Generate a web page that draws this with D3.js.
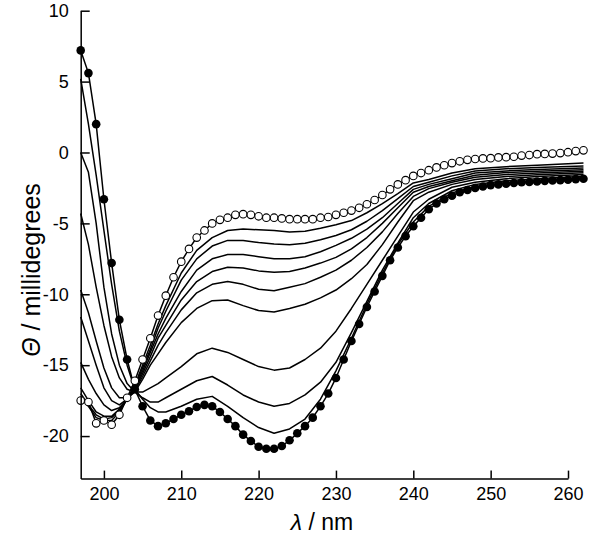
<!DOCTYPE html>
<html>
<head>
<meta charset="utf-8">
<script src="https://cdn.jsdelivr.net/npm/d3@7"></script>
<style>
  body { margin: 0; background: #fff; }
  svg { display: block; font-family: "Liberation Sans", Arial, Helvetica, sans-serif; }
</style>
</head>
<body>
<svg id="chart" width="600" height="536"></svg>
<script>
// wavelengths of the two marked spectra (1 nm steps)
var markWl = d3.range(197, 263);

// open circles: start of titration
var openVals = [-17.5, -17.6, -19.1, -18.9, -19.2, -18.5, -17.3, -16.1, -14.6, -13.1,
  -11.5, -10.1, -8.8, -7.7, -6.8, -6.0, -5.5, -5.0, -4.75, -4.6,
  -4.4, -4.35, -4.4, -4.5, -4.6, -4.6, -4.65, -4.7, -4.7, -4.7,
  -4.7, -4.6, -4.55, -4.4, -4.25, -4.1, -3.9, -3.65, -3.35, -3.0,
  -2.6, -2.25, -1.95, -1.65, -1.45, -1.25, -1.05, -0.9, -0.75, -0.62,
  -0.52, -0.46, -0.42, -0.4, -0.35, -0.33, -0.3, -0.22, -0.18, -0.12,
  -0.1, -0.08, -0.04, 0.02, 0.1, 0.15];

// filled circles: end of titration
var filledVals = [7.2, 5.6, 2.0, -3.3, -7.8, -11.8, -14.6, -16.7, -17.9, -18.9,
  -19.3, -19.1, -18.8, -18.5, -18.25, -17.95, -17.8, -17.9, -18.3, -18.8,
  -19.3, -19.9, -20.35, -20.75, -20.9, -20.9, -20.7, -20.3, -19.8, -19.3,
  -18.7, -17.9, -17.0, -15.9, -14.6, -13.3, -12.1, -10.9, -9.8, -8.7,
  -7.6, -6.7, -5.9, -5.2, -4.6, -4.0, -3.6, -3.3, -3.05, -2.8,
  -2.65, -2.5, -2.4, -2.3, -2.25, -2.2, -2.15, -2.1, -2.08, -2.05,
  -2.0, -1.98, -1.95, -1.92, -1.88, -1.85];

// wavelengths where the intermediate spectra were read
var lineWl = [197, 198, 199, 200, 201, 202, 203, 204, 205, 206, 207, 208, 210, 212, 214, 216,
  218, 220, 222, 224, 226, 228, 230, 232, 234, 236, 238, 240, 242, 245, 248, 252, 256, 262];

var line1 = [-17.3, -17.9, -18.7, -18.9, -18.9, -18.3, -17.4, -16.4, -15.0, -13.6, -12.1, -10.8, -8.5, -6.9, -6.0, -5.5,
  -5.4, -5.45, -5.5, -5.6, -5.55, -5.35, -5.1, -4.8, -4.25, -3.6, -2.9, -2.15, -1.9, -1.45, -1.15, -1.0, -0.9, -0.75];
var line2 = [-17.0, -17.8, -18.5, -18.8, -18.7, -18.2, -17.4, -16.5, -15.2, -13.9, -12.4, -11.2, -9.0, -7.5, -6.6, -6.2,
  -6.2, -6.35, -6.45, -6.5, -6.4, -6.15, -5.85, -5.45, -4.85, -4.1, -3.25, -2.4, -2.1, -1.65, -1.3, -1.15, -1.05, -0.95];
var line3 = [-16.6, -17.5, -18.3, -18.6, -18.6, -18.1, -17.4, -16.6, -15.4, -14.1, -12.8, -11.7, -9.8, -8.3, -7.5, -7.2,
  -7.2, -7.35, -7.5, -7.5, -7.35, -7.0, -6.55, -6.05, -5.4, -4.6, -3.6, -2.6, -2.25, -1.85, -1.45, -1.3, -1.2, -1.1];
var line4 = [-14.8, -16.0, -17.0, -17.8, -18.2, -18.0, -17.4, -16.7, -15.6, -14.4, -13.1, -12.2, -10.4, -9.1, -8.4, -8.1,
  -8.15, -8.35, -8.45, -8.4, -8.15, -7.8, -7.4, -6.8, -6.0, -5.0, -3.9, -2.8, -2.4, -2.0, -1.6, -1.42, -1.32, -1.22];
var line5 = [-11.6, -13.3, -15.0, -16.6, -17.5, -17.8, -17.4, -16.8, -15.8, -14.7, -13.6, -12.7, -11.1, -9.9, -9.3, -9.1,
  -9.3, -9.65, -9.75, -9.5, -9.25, -8.8, -8.3, -7.6, -6.7, -5.6, -4.3, -3.1, -2.55, -2.1, -1.75, -1.55, -1.45, -1.32];
var line6 = [-9.7, -11.3, -13.3, -15.2, -16.6, -17.3, -17.3, -16.9, -16.0, -15.0, -14.2, -13.4, -12.0, -11.0, -10.45, -10.4,
  -10.8, -11.15, -11.25, -11.0, -10.7, -10.25, -9.7, -8.9, -7.9, -6.5, -4.9, -3.4, -2.8, -2.25, -1.9, -1.7, -1.57, -1.43];
var line7 = [-4.3, -6.5, -9.5, -12.2, -14.4, -15.9, -16.7, -16.9, -16.9, -16.6, -16.3, -15.9, -15.1, -14.2, -13.8, -14.1,
  -14.6, -15.1, -15.35, -15.2, -14.6, -13.8, -12.6, -11.0, -9.3, -7.6, -5.9, -4.2, -3.3, -2.45, -2.1, -1.85, -1.7, -1.55];
var line8 = [0.0, -1.4, -5.0, -9.5, -12.8, -15.0, -16.3, -16.9, -17.3, -17.6, -17.6, -17.3, -16.7, -16.1, -15.8, -16.4,
  -17.1, -17.6, -17.9, -17.7, -17.1, -16.2, -14.8, -12.7, -10.5, -8.3, -6.4, -4.6, -3.6, -2.7, -2.25, -2.0, -1.85, -1.68];
var line9 = [5.2, 2.0, -1.6, -5.5, -9.3, -12.6, -15.0, -16.7, -17.4, -18.0, -18.3, -18.3, -17.9, -17.4, -17.2, -17.9,
  -18.7, -19.4, -19.8, -19.5, -18.8, -17.4, -15.4, -13.1, -10.7, -8.5, -6.5, -4.9, -3.8, -2.85, -2.4, -2.15, -2.0, -1.78];

var midLines = [line1, line2, line3, line4, line5, line6, line7, line8, line9];

var xTicks = [200, 210, 220, 230, 240, 250, 260];
var yTicks = [10, 5, 0, -5, -10, -15, -20];

var svg = d3.select("#chart");

var x = d3.scaleLinear().domain([197, 260]).range([80.7, 568]);
var y = d3.scaleLinear().domain([-23, 10]).range([478.6, 10.7]);

var line = d3.line()
    .x(function(d) { return x(d[0]); })
    .y(function(d) { return y(d[1]); });

// intermediate spectra
svg.append("g").selectAll("path")
    .data(midLines)
    .enter()
    .append("path")
    .attr("d", function(vals) {
        return line(vals.map(function(v, i) { return [lineWl[i], v]; }));
    })
    .attr("fill", "none")
    .attr("stroke", "#000")
    .attr("stroke-width", 1.5)
    .attr("stroke-linejoin", "round");

var openPts = openVals.map(function(v, i) { return [markWl[i], v]; });
var filledPts = filledVals.map(function(v, i) { return [markWl[i], v]; });

svg.append("path")
    .attr("d", line(openPts))
    .attr("fill", "none")
    .attr("stroke", "#000")
    .attr("stroke-width", 1.5);

svg.append("path")
    .attr("d", line(filledPts))
    .attr("fill", "none")
    .attr("stroke", "#000")
    .attr("stroke-width", 1.5);

svg.append("g").selectAll("circle")
    .data(openPts)
    .enter()
    .append("circle")
    .attr("cx", function(d) { return x(d[0]); })
    .attr("cy", function(d) { return y(d[1]); })
    .attr("r", 3.8)
    .attr("fill", "#fff")
    .attr("stroke", "#000")
    .attr("stroke-width", 1.1);

svg.append("g").selectAll("circle")
    .data(filledPts)
    .enter()
    .append("circle")
    .attr("cx", function(d) { return x(d[0]); })
    .attr("cy", function(d) { return y(d[1]); })
    .attr("r", 4.3)
    .attr("fill", "#000");

// plain hyphen for negatives, like the original
var fmt = function(d) { return String(d); };

// axes with inward ticks
var yAxis = svg.append("g")
    .attr("transform", "translate(" + x.range()[0] + ",0)")
    .call(d3.axisLeft(y).tickValues(yTicks).tickFormat(fmt)
        .tickSizeInner(-9).tickSizeOuter(0).tickPadding(12));

var xAxis = svg.append("g")
    .attr("transform", "translate(0," + y.range()[0] + ")")
    .call(d3.axisBottom(x).tickValues(xTicks).tickFormat(fmt)
        .tickSizeInner(-8).tickSizeOuter(0).tickPadding(9));

[xAxis, yAxis].forEach(function(a) {
    a.selectAll("path, line").attr("stroke", "#000").attr("stroke-width", 1.5);
    a.selectAll("text")
        .attr("fill", "#000")
        .style("font-family", "'Liberation Sans', Arial, Helvetica, sans-serif")
        .style("font-size", "18px");
});

// axis titles
var xt = svg.append("text")
    .attr("x", 322)
    .attr("y", 530)
    .attr("text-anchor", "middle")
    .attr("font-size", "23px");
xt.append("tspan").attr("font-style", "italic").text("λ");
xt.append("tspan").text(" / nm");

var yt = svg.append("text")
    .attr("transform", "translate(40,270) rotate(-90)")
    .attr("text-anchor", "middle")
    .attr("font-size", "25px");
yt.append("tspan").attr("font-style", "italic").text("Θ");
yt.append("tspan").text(" / millidegrees");
</script>
</body>
</html>
